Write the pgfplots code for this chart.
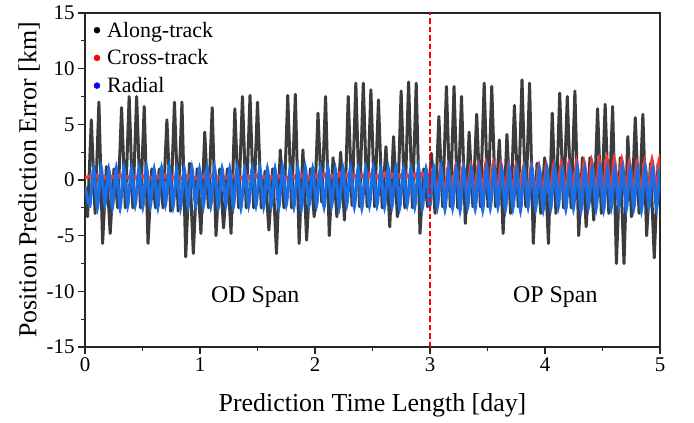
\documentclass[border=0pt]{standalone}
\usepackage{fontspec}
\setmainfont{Liberation Serif}
\usepackage{pgfplots}
\usepackage{pgfplotstable}
\pgfplotsset{compat=1.18}
\definecolor{atgray}{RGB}{60,60,60}
\definecolor{ctred}{RGB}{240,58,58}
\definecolor{radblue}{RGB}{28,108,226}

\pgfplotstableread{
t v
0.000 -1.0
0.022 -3.3
0.055 5.4
0.088 -3.0
0.121 7.0
0.153 -5.7
0.186 1.2
0.219 -4.8
0.252 1.0
0.285 -2.5
0.318 6.5
0.351 -2.5
0.384 7.5
0.416 -2.5
0.449 7.5
0.482 -2.5
0.515 6.6
0.548 -5.7
0.581 1.0
0.613 -2.5
0.646 1.0
0.679 -2.5
0.712 5.4
0.745 -2.8
0.778 7.0
0.810 -2.8
0.843 7.0
0.876 -6.9
0.909 1.5
0.942 -6.6
0.975 1.0
1.008 -4.8
1.041 4.3
1.073 -2.5
1.106 6.5
1.139 -5.0
1.172 1.0
1.205 -4.3
1.238 1.0
1.270 -4.8
1.303 6.4
1.336 -2.5
1.369 7.5
1.402 -2.5
1.435 7.6
1.467 -2.5
1.500 7.0
1.533 -2.5
1.566 0.8
1.599 -4.5
1.632 1.0
1.665 -6.6
1.698 2.7
1.730 -2.5
1.763 7.6
1.796 -2.5
1.829 7.7
1.862 -5.7
1.895 2.7
1.927 -5.4
1.960 1.0
1.993 -3.3
2.026 6.0
2.059 -2.0
2.092 7.5
2.124 -5.0
2.157 2.0
2.190 -3.3
2.223 2.5
2.256 -3.6
2.289 7.5
2.322 -2.3
2.355 8.7
2.387 -2.4
2.420 8.7
2.453 -2.4
2.486 8.1
2.519 -2.4
2.552 7.2
2.584 -2.5
2.617 3.0
2.650 -4.2
2.683 3.9
2.716 -3.3
2.749 8.0
2.781 -2.5
2.814 8.8
2.847 -2.5
2.880 8.7
2.913 -4.8
2.946 1.0
2.979 -2.4
3.012 2.4
3.044 -3.0
3.077 5.7
3.110 -2.4
3.143 8.4
3.176 -2.4
3.209 8.4
3.241 -2.5
3.274 7.5
3.307 -3.9
3.340 4.3
3.373 -2.4
3.406 5.9
3.438 -2.4
3.471 8.7
3.504 -2.4
3.537 8.4
3.570 -2.4
3.603 3.6
3.636 -4.8
3.669 4.1
3.701 -3.0
3.734 6.7
3.767 -2.4
3.800 9.0
3.833 -2.4
3.866 8.7
3.898 -5.7
3.931 1.5
3.964 -3.0
3.997 2.0
4.030 -5.7
4.063 6.0
4.095 -3.0
4.128 7.8
4.161 -2.5
4.194 7.5
4.227 -2.5
4.260 8.0
4.293 -5.0
4.326 2.0
4.358 -4.2
4.391 2.0
4.424 -3.6
4.457 6.4
4.490 -3.0
4.523 6.8
4.555 -3.0
4.588 6.6
4.621 -7.5
4.654 2.0
4.687 -7.5
4.720 3.9
4.752 -3.3
4.785 5.6
4.818 -3.0
4.851 5.9
4.884 -5.0
4.917 1.5
4.950 -7.0
4.983 1.5
5.000 -1.0
}\alongtrack

\pgfplotstableread{
t v
0.000 0.2
0.042 0.30
0.075 -0.05
0.108 0.40
0.141 -0.05
0.173 0.25
0.206 -0.05
0.239 0.35
0.272 -0.05
0.305 0.45
0.338 -0.05
0.371 0.30
0.404 -0.05
0.436 0.30
0.469 -0.05
0.502 0.40
0.535 -0.05
0.568 0.25
0.601 -0.05
0.633 0.35
0.666 -0.05
0.699 0.45
0.732 -0.05
0.765 0.30
0.798 -0.05
0.830 0.30
0.863 -0.05
0.896 0.40
0.929 -0.05
0.962 0.25
0.995 -0.05
1.028 0.35
1.061 -0.05
1.093 0.45
1.126 -0.05
1.159 0.30
1.192 -0.05
1.225 0.30
1.258 -0.05
1.290 0.40
1.323 -0.05
1.356 0.25
1.389 -0.05
1.422 0.35
1.455 -0.05
1.487 0.45
1.520 -0.05
1.553 0.30
1.586 -0.05
1.619 0.30
1.652 -0.05
1.685 0.40
1.718 -0.05
1.750 0.25
1.783 -0.05
1.816 0.35
1.849 -0.05
1.882 0.45
1.915 -0.05
1.947 0.30
1.980 -0.05
2.013 0.45
2.046 -0.05
2.079 0.55
2.112 -0.05
2.144 0.40
2.177 -0.05
2.210 0.60
2.243 -0.05
2.276 0.50
2.309 -0.05
2.342 0.45
2.375 -0.05
2.407 0.45
2.440 -0.05
2.473 0.55
2.506 -0.05
2.539 0.40
2.572 -0.05
2.604 0.60
2.637 -0.05
2.670 0.50
2.703 -0.05
2.736 0.45
2.769 -0.05
2.801 0.45
2.834 -0.05
2.867 0.55
2.900 -0.05
2.933 0.60
2.966 -0.05
2.999 0.50
3.026 0.90
3.064 -1.3
3.091 1.00
3.130 -1.3
3.157 1.10
3.196 -1.3
3.223 1.20
3.261 -1.3
3.288 1.20
3.327 -1.3
3.354 1.30
3.393 -1.3
3.420 1.40
3.458 -1.3
3.485 1.50
3.524 -1.3
3.551 1.50
3.590 -1.3
3.617 1.40
3.656 -1.3
3.683 1.30
3.721 -1.3
3.748 1.30
3.787 -1.3
3.814 1.20
3.853 -1.3
3.880 1.20
3.918 -1.3
3.945 1.20
3.984 -1.3
4.011 1.30
4.050 -1.3
4.077 1.40
4.115 -1.3
4.142 1.50
4.181 -1.3
4.208 1.50
4.247 -1.3
4.274 1.60
4.313 -1.3
4.340 1.60
4.378 -1.3
4.405 1.70
4.444 -1.3
4.471 1.80
4.510 -1.3
4.537 1.90
4.575 -1.3
4.602 1.90
4.641 -1.3
4.668 1.80
4.707 -1.3
4.734 1.60
4.772 -1.3
4.799 1.50
4.838 -1.3
4.865 1.60
4.904 -1.3
4.931 1.80
4.970 -1.3
4.992 1.80
5.000 1.6
}\crosstrack

\pgfplotstableread{
t v
0.000 -0.6
0.042 -2.3
0.075 1.0
0.108 -2.45
0.141 1.1
0.173 -2.2
0.206 0.95
0.239 -2.4
0.272 1.05
0.305 -2.5
0.338 1.1
0.371 -2.3
0.404 1.0
0.436 -2.25
0.469 1.0
0.502 -2.4
0.535 1.1
0.568 -2.3
0.601 0.95
0.633 -2.45
0.666 1.05
0.699 -2.2
0.732 1.1
0.765 -2.4
0.798 1.0
0.830 -2.5
0.863 1.0
0.896 -2.3
0.929 1.1
0.962 -2.25
0.995 0.95
1.028 -2.4
1.061 1.05
1.093 -2.3
1.126 1.1
1.159 -2.45
1.192 1.0
1.225 -2.2
1.258 1.0
1.290 -2.4
1.323 1.1
1.356 -2.5
1.389 0.95
1.422 -2.3
1.455 1.05
1.487 -2.25
1.520 1.1
1.553 -2.4
1.586 1.0
1.619 -2.3
1.652 1.0
1.685 -2.45
1.718 1.1
1.750 -2.2
1.783 0.95
1.816 -2.4
1.849 1.05
1.882 -2.5
1.915 1.1
1.947 -2.3
1.980 1.0
2.013 -2.25
2.046 1.0
2.079 -2.4
2.112 1.1
2.144 -2.3
2.177 0.95
2.210 -2.45
2.243 1.05
2.276 -2.2
2.309 1.1
2.342 -2.4
2.375 1.0
2.407 -2.5
2.440 1.0
2.473 -2.3
2.506 1.1
2.539 -2.25
2.572 0.95
2.604 -2.4
2.637 1.05
2.670 -2.3
2.703 1.1
2.736 -2.45
2.769 1.0
2.801 -2.2
2.834 1.0
2.867 -2.4
2.900 1.1
2.933 -2.5
2.966 0.95
2.999 -2.3
3.032 1.05
3.064 -2.4
3.097 1.1
3.130 -2.6
3.163 1.0
3.196 -2.5
3.229 1.0
3.261 -2.7
3.294 1.1
3.327 -2.4
3.360 0.95
3.393 -2.55
3.426 1.05
3.458 -2.65
3.491 1.1
3.524 -2.5
3.557 1.0
3.590 -2.4
3.623 1.0
3.656 -2.6
3.689 1.1
3.721 -2.5
3.754 0.95
3.787 -2.7
3.820 1.05
3.853 -2.4
3.886 1.1
3.918 -2.55
3.951 1.0
3.984 -2.65
4.017 1.0
4.050 -2.5
4.083 1.1
4.115 -2.4
4.148 0.95
4.181 -2.6
4.214 1.05
4.247 -2.5
4.280 1.1
4.313 -2.7
4.346 1.0
4.378 -2.4
4.411 1.0
4.444 -2.55
4.477 1.1
4.510 -2.65
4.543 0.95
4.575 -2.5
4.608 1.05
4.641 -2.4
4.674 1.1
4.707 -2.6
4.740 1.0
4.772 -2.5
4.805 1.0
4.838 -2.7
4.871 1.1
4.904 -2.4
4.937 0.95
4.970 -2.55
4.998 1.05
}\radial

\begin{document}
\begin{tikzpicture}
\begin{axis}[
  scale only axis,
  width=575bp, height=334bp,
  xmin=0, xmax=5, ymin=-15, ymax=15,
  xtick={0,1,2,3,4,5},
  ytick={-15,-10,-5,0,5,10,15},
  minor x tick num=1, minor y tick num=1,
  tick align=outside, tick pos=left,
  major tick length=7bp, minor tick length=4bp,
  axis line style={line width=1.1bp, black!85},
  every tick/.style={line width=1.1bp, black!85},
  /pgf/number format/assume math mode=true,
  tick label style={font=\fontsize{21}{24}\selectfont},
  every axis x label/.style={at={(axis description cs:0.5,-0.175)}, anchor=center},
  every axis y label/.style={at={(axis description cs:-0.097,0.5)}, rotate=90, anchor=center},
  label style={font=\fontsize{26}{30}\selectfont},
  xlabel={Prediction Time Length [day]},
  ylabel={Position Prediction Error [km]},
  legend style={at={(axis description cs:0.008,0.986)}, anchor=north west,
    draw=none, fill=none, font=\fontsize{22}{26}\selectfont, row sep=7bp,
    nodes={inner sep=2bp}},
  legend cell align=left,
]
\coordinate (bl) at (rel axis cs:0,0);
\coordinate (tr) at (rel axis cs:1,1);
\addplot[atgray, line width=3bp, line join=round, forget plot] table[x=t,y=v] {\alongtrack};
\addplot[ctred, line width=3.2bp, smooth, tension=0.35, forget plot] table[x=t,y=v] {\crosstrack};
\addplot[radblue, line width=3.2bp, smooth, tension=0.35, forget plot] table[x=t,y=v] {\radial};
\addplot[red, line width=2bp, dash pattern=on 5.5bp off 3bp, forget plot] coordinates {(3,-15) (3,15)};
\node[font=\fontsize{24}{28}\selectfont] at (axis cs:1.48,-10.5) {OD Span};
\node[font=\fontsize{24}{28}\selectfont] at (axis cs:4.09,-10.5) {OP Span};
\addlegendimage{legend image code/.code={\path (0bp,0bp) (12bp,0bp); \fill[black] (4bp,0bp) circle (3bp);}}
\addlegendentry{Along-track}
\addlegendimage{legend image code/.code={\path (0bp,0bp) (12bp,0bp); \fill[red] (4bp,0bp) circle (3bp);}}
\addlegendentry{Cross-track}
\addlegendimage{legend image code/.code={\path (0bp,0bp) (12bp,0bp); \fill[blue] (4bp,0bp) circle (3bp);}}
\addlegendentry{Radial}
\end{axis}
\pgfresetboundingbox
\path ([shift={(-85bp,-76bp)}]bl) rectangle ([shift={(34bp,13bp)}]tr);
\end{tikzpicture}
\end{document}
